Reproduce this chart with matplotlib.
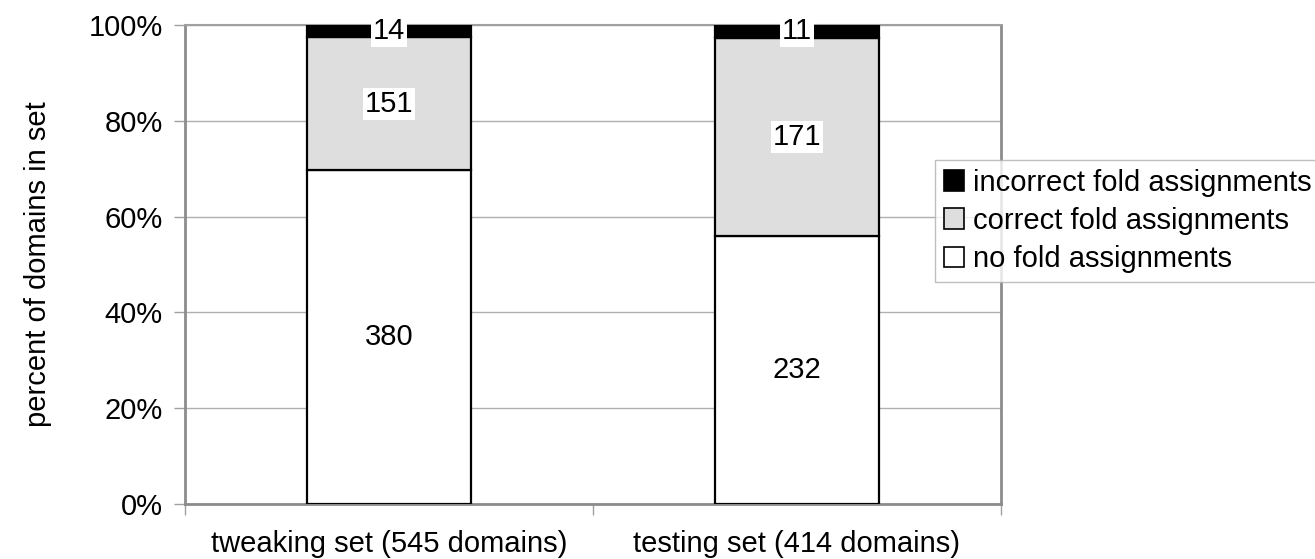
import matplotlib.pyplot as plt
import numpy as np
from matplotlib.patches import Patch

plt.rcParams['font.family'] = ['Liberation Sans', 'DejaVu Sans']

# Domain counts per set
sets = ["tweaking set (545 domains)", "testing set (414 domains)"]
no_fold = [380, 232]
correct_fold = [151, 171]
incorrect_fold = [14, 11]

series = [
    ("no fold assignments", no_fold, "white"),
    ("correct fold assignments", correct_fold, "#dedede"),
    ("incorrect fold assignments", incorrect_fold, "black"),
]

totals = np.array(no_fold) + np.array(correct_fold) + np.array(incorrect_fold)
FS = 21

fig = plt.figure(figsize=(13.15, 5.59), dpi=100)
ax = fig.add_axes([0.1407, 0.0984, 0.6205, 0.8569])

x = np.arange(len(sets))
bottom = np.zeros(len(sets))
handles = []
for name, counts, color in series:
    pct = np.array(counts) / totals * 100
    ax.bar(x, pct, width=0.40, bottom=bottom, color=color,
           edgecolor="black", linewidth=1.6, zorder=3)
    for xi, b, p, c in zip(x, bottom, pct, counts):
        ax.text(xi, b + p / 2, str(c), ha="center", va="center", fontsize=FS,
                zorder=5, bbox=dict(facecolor="white", edgecolor="none", pad=1.5))
    handles.append(Patch(facecolor=color, edgecolor="black", linewidth=1.2, label=name))
    bottom += pct

ax.set_xlim(-0.5, 1.5)
ax.set_ylim(0, 100)
ax.set_yticks(np.arange(0, 101, 20))
ax.set_yticklabels([f"{v}%" for v in range(0, 101, 20)], fontsize=FS)
ax.set_xticks(x)
ax.set_xticklabels(sets, fontsize=FS)
ax.set_xticks([-0.5, 0.5, 1.5], minor=True)
ax.tick_params(axis="x", which="major", length=0, pad=19)
ax.tick_params(axis="x", which="minor", length=8, color="#a0a0a0", width=1)
ax.tick_params(axis="y", length=8, color="#a0a0a0", width=1, pad=8)
ax.set_ylabel("percent of domains in set", fontsize=FS, labelpad=26)

ax.yaxis.grid(True, color="#b0b0b0", linewidth=1, zorder=0)
for side in ["left", "bottom", "right"]:
    ax.spines[side].set_color("#8c8c8c")
    ax.spines[side].set_linewidth(2)
ax.spines["top"].set_color("#a0a0a0")
ax.spines["top"].set_linewidth(1.5)

fig.legend(handles=handles[::-1], loc="upper left", bbox_to_anchor=(0.711, 0.714),
           fontsize=FS, frameon=True, fancybox=False, edgecolor="#b0b0b0",
           handlelength=0.7, handleheight=0.7, handletextpad=0.3,
           labelspacing=0.35, borderpad=0.3, borderaxespad=0)

fig.savefig("out.png", dpi=100)
